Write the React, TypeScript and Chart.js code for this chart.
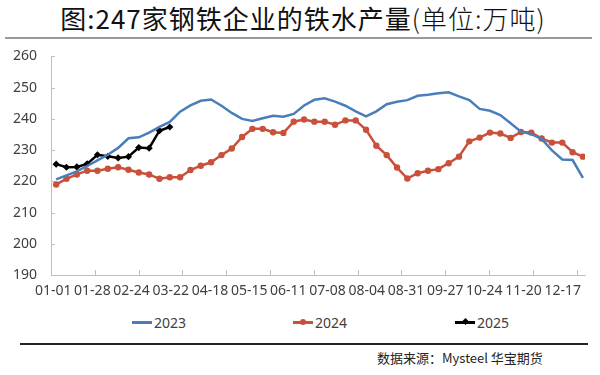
import React, { useEffect, useRef } from "react";
import { Chart, registerables } from "chart.js";

Chart.register(...registerables);

// ---- data ----
const xLabels = [
  "01-01", "01-28", "02-24", "03-22", "04-18", "05-15", "06-11",
  "07-08", "08-04", "08-31", "09-27", "10-24", "11-20", "12-17",
];

const series2023 = [
  220.6, 221.9, 223.2, 224.9, 226.7, 228.5, 230.7, 233.8, 234.1, 235.6,
  237.4, 239.0, 242.3, 244.3, 245.8, 246.2, 244.2, 241.9, 240.0, 239.3,
  240.2, 241.0, 240.7, 241.6, 244.3, 246.1, 246.6, 245.5, 244.2, 242.4,
  240.8, 242.4, 244.7, 245.5, 246.0, 247.4, 247.7, 248.2, 248.5, 247.2,
  246.0, 243.2, 242.6, 241.2, 238.6, 235.9, 235.1, 233.6, 229.9, 227.0,
  226.8, 221.1,
];

const series2024 = [
  219.0, 220.8, 222.2, 223.4, 223.4, 224.0, 224.5, 223.7, 222.8, 222.2,
  220.8, 221.3, 221.3, 223.6, 225.0, 226.1, 228.4, 230.5, 234.2, 236.8,
  236.8, 235.7, 235.5, 239.1, 239.8, 239.1, 239.1, 238.1, 239.5, 239.5,
  236.5, 231.4, 228.4, 224.4, 220.9, 222.6, 223.4, 223.9, 225.8, 227.9,
  232.8, 234.0, 235.6, 235.3, 233.9, 235.8, 235.6, 233.7, 232.4, 232.4,
  229.3, 227.9,
];

const series2025 = [
  225.5, 224.5, 224.6, 225.6, 228.5, 228.0, 227.5, 227.9, 230.8, 230.6,
  236.2, 237.4,
];

const seriesNames = ["2023", "2024", "2025"];

// ---- style / layout ----
const BLUE = "#4A7EBB";
const RED = "#C9503A";
const BLACK = "#000000";
const AXIS = "#BFBFBF";
const TEXT = "#404040";
const FONT = "'Noto Sans', 'Open Sans', sans-serif";
const CJK = "'Noto Sans CJK SC', sans-serif";

const X_MIN = -0.5;
const X_MAX = 51.2;
const TICK_STEP = 4.24;
const TICK_COUNT = 13;
const LABEL_START = -0.29;
const LABEL_STEP = 3.795;

const toPoints = (arr: number[]) => arr.map((v, i) => ({ x: i, y: v }));

const innerTicks = {
  id: "innerTicks",
  beforeDatasetsDraw(chart: any) {
    const { ctx, chartArea, scales } = chart;
    ctx.save();
    ctx.strokeStyle = AXIS;
    ctx.lineWidth = 1;
    ctx.beginPath();
    for (let k = 1; k < TICK_COUNT; k++) {
      const px = Math.round(scales.x.getPixelForValue(X_MIN + k * TICK_STEP)) + 0.5;
      ctx.moveTo(px, chartArea.bottom);
      ctx.lineTo(px, chartArea.bottom - 5);
    }
    scales.y.ticks.forEach((t: any) => {
      const py = Math.round(scales.y.getPixelForValue(t.value)) + 0.5;
      ctx.moveTo(chartArea.left, py);
      ctx.lineTo(chartArea.left + 4, py);
    });
    ctx.stroke();
    ctx.restore();
  },
};

function ChartCanvas() {
  const ref = useRef<HTMLCanvasElement | null>(null);
  useEffect(() => {
    if (!ref.current) return;
    const chart = new Chart(ref.current, {
      type: "line",
      data: {
        datasets: [
          {
            label: seriesNames[0],
            data: toPoints(series2023),
            borderColor: BLUE,
            backgroundColor: BLUE,
            borderWidth: 2.5,
            pointRadius: 0,
            tension: 0,
          },
          {
            label: seriesNames[1],
            data: toPoints(series2024),
            borderColor: RED,
            backgroundColor: RED,
            borderWidth: 2.5,
            pointRadius: 3.2,
            pointBorderWidth: 0,
            pointBackgroundColor: RED,
            tension: 0,
          },
          {
            label: seriesNames[2],
            data: toPoints(series2025),
            borderColor: BLACK,
            backgroundColor: BLACK,
            borderWidth: 2.5,
            pointRadius: 3.6,
            pointStyle: "rectRot",
            pointBorderWidth: 0,
            pointBackgroundColor: BLACK,
            tension: 0,
          },
        ],
      },
      options: {
        animation: false,
        responsive: true,
        maintainAspectRatio: false,
        layout: { padding: { top: 0, right: 15, left: 0, bottom: 0 } },
        plugins: {
          legend: { display: false },
          title: { display: false },
          tooltip: { enabled: false },
        },
        scales: {
          x: {
            type: "linear",
            min: X_MIN,
            max: X_MAX,
            grid: { display: false, drawTicks: false },
            border: { display: true, color: AXIS, width: 1 },
            afterBuildTicks: (axis: any) => {
              axis.ticks = xLabels.map((_, i) => ({ value: LABEL_START + i * LABEL_STEP }));
            },
            afterFit: (axis: any) => {
              axis.height = 27;
            },
            ticks: {
              autoSkip: false,
              maxRotation: 0,
              minRotation: 0,
              padding: 8,
              color: TEXT,
              font: { family: FONT, size: 14 },
              callback: (_v: any, i: number) => xLabels[i],
            },
          },
          y: {
            type: "linear",
            min: 190,
            max: 260,
            grid: { display: false, drawTicks: false },
            border: { display: true, color: AXIS, width: 1 },
            afterFit: (axis: any) => {
              axis.width = 51;
            },
            ticks: {
              stepSize: 10,
              padding: 14,
              color: TEXT,
              font: { family: FONT, size: 14 },
            },
          },
        },
      },
      plugins: [innerTicks],
    });
    return () => chart.destroy();
  }, []);
  return <canvas ref={ref} />;
}

function LegendItem({ left, color, marker, label }: { left: number; color: string; marker: string; label: string }) {
  return (
    <div style={{ position: "absolute", left, top: 312, height: 20, display: "flex", alignItems: "center" }}>
      <div style={{ position: "relative", width: 20, height: 3, background: color }}>
        {marker === "circle" && (
          <div style={{ position: "absolute", left: 7, top: -2, width: 6, height: 6, borderRadius: 3, background: color }} />
        )}
        {marker === "diamond" && (
          <div style={{ position: "absolute", left: 7.5, top: -1.5, width: 5, height: 5, background: color, transform: "rotate(45deg)" }} />
        )}
      </div>
      <span style={{ marginLeft: 2, fontFamily: FONT, fontSize: 14, color: TEXT }}>{label}</span>
    </div>
  );
}

export default function App() {
  return (
    <div style={{ position: "absolute", left: 0, top: 0, width: 600, height: 375, background: "#fff", overflow: "hidden" }}>
      <div
        style={{
          position: "absolute",
          left: 0,
          top: 3,
          width: 606,
          textAlign: "center",
          fontFamily: CJK,
          fontSize: 26,
          lineHeight: "30px",
          color: "#111",
          letterSpacing: 1,
          whiteSpace: "nowrap",
        }}
      >
        图:247家钢铁企业的铁水产量<span style={{ fontWeight: 300 }}>(单位:万吨)</span>
      </div>
      <div style={{ position: "absolute", left: 5, top: 37, width: 587, height: 2, background: "#9A9A9A" }} />
      <div style={{ position: "absolute", left: 0, top: 34, width: 600, height: 268 }}>
        <ChartCanvas />
      </div>
      <LegendItem left={132} color={BLUE} marker="none" label={seriesNames[0]} />
      <LegendItem left={293} color={RED} marker="circle" label={seriesNames[1]} />
      <LegendItem left={455} color={BLACK} marker="diamond" label={seriesNames[2]} />
      <div style={{ position: "absolute", left: 20, top: 343, width: 568, height: 2, background: "#222" }} />
      <div
        style={{
          position: "absolute",
          left: 377,
          top: 349,
          fontFamily: CJK,
          fontSize: 13,
          lineHeight: "17px",
          color: "#222",
          whiteSpace: "nowrap",
        }}
      >
        数据来源：Mysteel 华宝期货
      </div>
    </div>
  );
}
